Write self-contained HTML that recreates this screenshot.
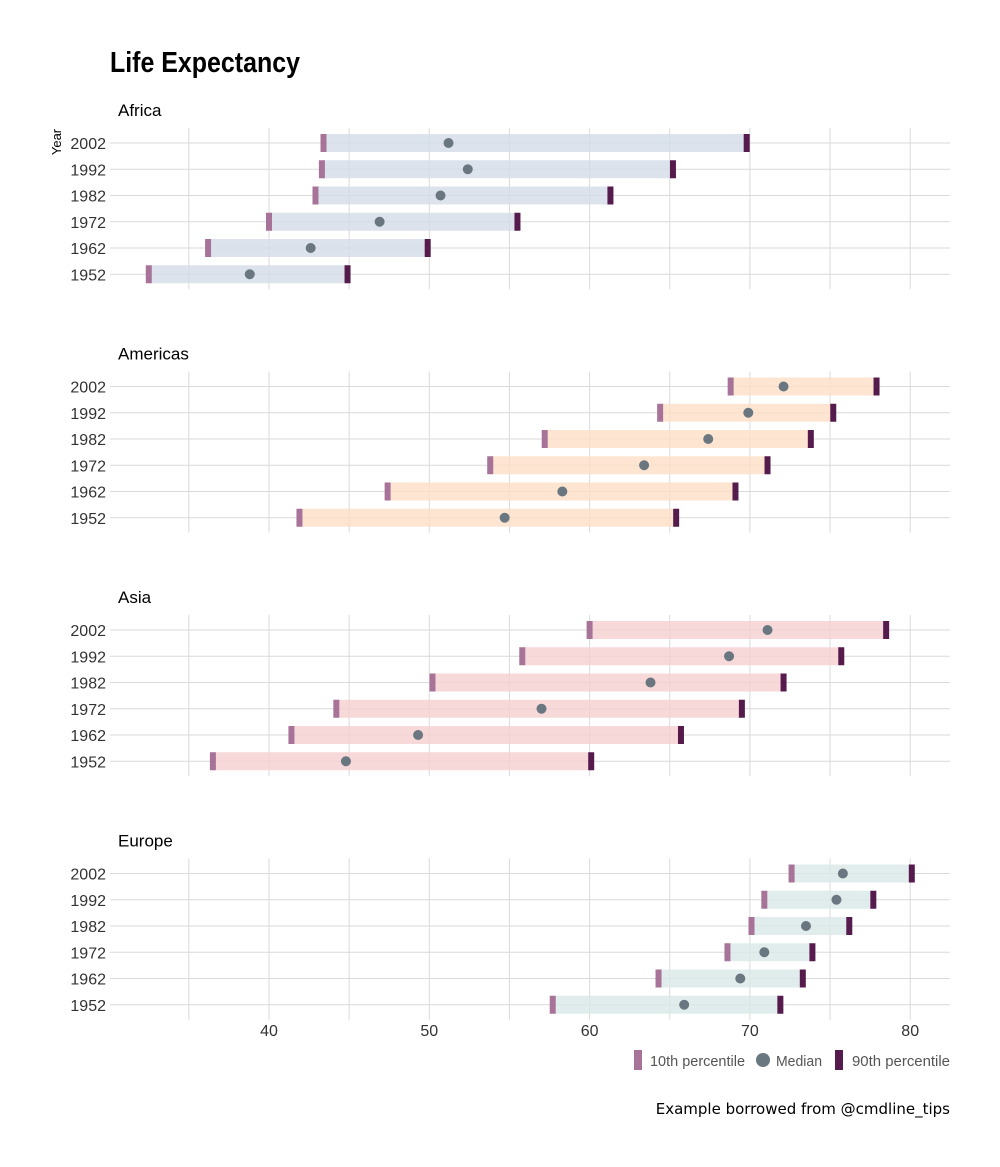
<!DOCTYPE html>
<html><head><meta charset="utf-8">
<style>
body{margin:0;background:#fff;}
svg{display:block;font-family:"Liberation Sans Narrow","Liberation Sans",sans-serif;}
</style></head>
<body>
<svg id="chart" width="1000" height="1167" viewBox="0 0 1000 1167">
<text x="110" y="72" font-size="29" font-weight="bold" fill="#000" textLength="190" lengthAdjust="spacingAndGlyphs">Life Expectancy</text>
<text transform="translate(61,142) rotate(-90)" font-size="13" text-anchor="middle" fill="#000">Year</text>
<g id="panels"></g>
<g id="xaxis"></g>
<g>
<rect x="634" y="1050" width="8" height="20" fill="#a87398"/>
<text x="650" y="1066" font-size="15" fill="#555" textLength="95" lengthAdjust="spacingAndGlyphs">10th percentile</text>
<circle cx="763" cy="1060" r="7" fill="#6a7680"/>
<text x="776" y="1066" font-size="15" fill="#555" textLength="46" lengthAdjust="spacingAndGlyphs">Median</text>
<rect x="835" y="1050" width="8" height="20" fill="#561b4d"/>
<text x="852" y="1066" font-size="15" fill="#555" textLength="98" lengthAdjust="spacingAndGlyphs">90th percentile</text>
</g>
<text x="950" y="1114" font-size="15" text-anchor="end" fill="#000" font-family="DejaVu Sans, sans-serif">Example borrowed from @cmdline_tips</text>
</svg>
<script>
const continents = ["Africa","Americas","Asia","Europe"];
const years = [2002,1992,1982,1972,1962,1952];
const p10 = [
 [43.4,43.3,42.9,40.0,36.2,32.5],
 [68.8,64.4,57.2,53.8,47.4,41.9],
 [60.0,55.8,50.2,44.2,41.4,36.5],
 [72.6,70.9,70.1,68.6,64.3,57.7]];
const median = [
 [51.2,52.4,50.7,46.9,42.6,38.8],
 [72.1,69.9,67.4,63.4,58.3,54.7],
 [71.1,68.7,63.8,57.0,49.3,44.8],
 [75.8,75.4,73.5,70.9,69.4,65.9]];
const p90 = [
 [69.8,65.2,61.3,55.5,49.9,44.9],
 [77.9,75.2,73.8,71.1,69.1,65.4],
 [78.5,75.7,72.1,69.5,65.7,60.1],
 [80.1,77.7,76.2,73.9,73.3,71.9]];
const xTicks = [40,50,60,70,80];
const xMinor = [35,45,55,65,75];

const NS="http://www.w3.org/2000/svg";
const fills=["#d3dce8","#fcdfc6","#f5cfd0","#d9e9e7"];
const X0=110,X1=950;
function xs(v){return 269+(v-40)*16.03;}
function mk(tag,attrs,parent){const e=document.createElementNS(NS,tag);for(const k in attrs)e.setAttribute(k,attrs[k]);parent.appendChild(e);return e;}
const panels=document.getElementById('panels');
continents.forEach((c,pi)=>{
  const top=143+pi*243.5;
  const ys=i=>top+i*26.25;
  const g=mk('g',{},panels);
  
  
  const t=mk('text',{x:118,y:top-27,'font-size':17,fill:'#000'},g);
  t.textContent=c;
  
  
  xTicks.concat(xMinor).forEach(v=>{
    const l=mk('line',{x1:xs(v),x2:xs(v),y1:top-15,y2:ys(5)+15,stroke:'#dadada','stroke-width':1},g);
    
    
  });
  years.forEach((yr,i)=>{
    const y=ys(i);
    const l=mk('line',{x1:X0,x2:X1,y1:y,y2:y,stroke:'#dadada','stroke-width':1},g);
    
    
    const lb=mk('text',{x:106,y:y+6,'font-size':16,'text-anchor':'end',fill:'#333'},g);
    lb.textContent=yr;
    
    
    const b=mk('rect',{x:xs(p10[pi][i]),y:y-9,width:xs(p90[pi][i])-xs(p10[pi][i]),height:18,fill:fills[pi],'fill-opacity':0.8},g);
    
    
    const a=mk('rect',{x:xs(p10[pi][i])-3,y:y-9,width:6,height:18,fill:'#a87398'},g);
    
    
    const z=mk('rect',{x:xs(p90[pi][i])-3,y:y-9,width:6,height:18,fill:'#561b4d'},g);
    
    
    const d=mk('circle',{cx:xs(median[pi][i]),cy:y,r:5,fill:'#6a7680'},g);
    
    
  });
});
const xa=document.getElementById('xaxis');
xTicks.forEach(v=>{
  const t=mk('text',{x:xs(v),y:1036,'font-size':16,'text-anchor':'middle',fill:'#333'},xa);
  t.textContent=v;
  
  
});
</script>
</body></html>
